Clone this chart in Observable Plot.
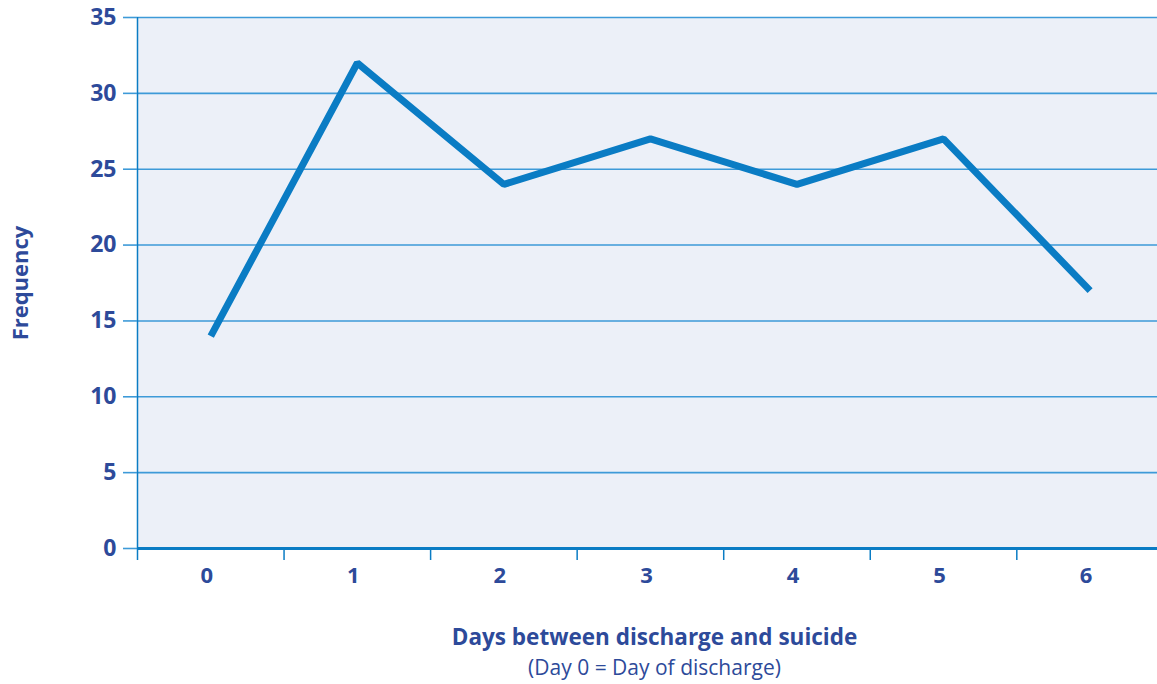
<!DOCTYPE html>
<html>
<head>
<meta charset="utf-8">
<script src="https://cdn.jsdelivr.net/npm/d3@7"></script>
<script src="https://cdn.jsdelivr.net/npm/@observablehq/plot@0.6"></script>
<style>
  html, body { margin: 0; padding: 0; background: #fff; }
  #chart svg { display: block; }
</style>
</head>
<body>
<div id="chart"></div>
<script>
const days = [0, 1, 2, 3, 4, 5, 6];
const frequency = [14, 32, 24, 27, 24, 27, 17];
const yTicks = [0, 5, 10, 15, 20, 25, 30, 35];
const xBoundaries = [-0.5, 0.5, 1.5, 2.5, 3.5, 4.5, 5.5];
const xTitle = "Days between discharge and suicide";
const xSubtitle = "(Day 0 = Day of discharge)";
const yTitle = "Frequency";

const data = days.map((d, i) => ({day: d, freq: frequency[i]}));
const textColor = "#2d4a9a";
const lineColor = "#0a7cc4";
const gridColor = "#3d9ad8";
const font = "'Open Sans', 'Noto Sans', sans-serif";

const chart = Plot.plot({
  width: 1157,
  height: 684,
  marginLeft: 137,
  marginRight: 0,
  marginTop: 17,
  marginBottom: 136,
  style: {fontFamily: font, color: textColor, background: "#fff"},
  x: {type: "linear", domain: [-0.5, 6.46], axis: null},
  y: {type: "linear", domain: [0, 35], axis: null},
  marks: [
    Plot.frame({fill: "#ecf0f8", stroke: null}),
    Plot.ruleY(yTicks.filter(d => d > 0), {stroke: gridColor, strokeWidth: 1.6}),
    Plot.ruleX([-0.5], {stroke: lineColor, strokeWidth: 1.5}),
    Plot.axisY({
      ticks: yTicks, tickSize: 14, tickPadding: 7, stroke: gridColor, strokeWidth: 1.6,
      fontSize: 23, fontWeight: "bold", fill: textColor, label: null
    }),
    Plot.axisX({
      ticks: xBoundaries, tickSize: 12, tickFormat: () => "", stroke: lineColor,
      strokeWidth: 1.5, label: null
    }),
    Plot.axisX({
      ticks: days, tickSize: 0, tickPadding: 19, dx: -4, tickFormat: d => String(d),
      fontSize: 22, fontWeight: "bold", fill: textColor, label: null
    }),
    Plot.ruleY([0], {stroke: lineColor, strokeWidth: 3}),
    Plot.line(data, {
      x: "day", y: "freq", stroke: lineColor, strokeWidth: 7,
      strokeLinecap: "butt", strokeLinejoin: "miter"
    }),
    Plot.text([xTitle], {
      frameAnchor: "bottom", dx: 7, dy: 96, text: d => d,
      fontSize: 22.5, fontWeight: "bold", fill: textColor
    }),
    Plot.text([xSubtitle], {
      frameAnchor: "bottom", dx: 7, dy: 126, text: d => d,
      fontSize: 21, fill: textColor
    }),
    Plot.text([yTitle], {
      frameAnchor: "left", textAnchor: "middle", dx: -117, rotate: -90, text: d => d,
      fontSize: 22, fontWeight: "bold", fill: textColor
    })
  ]
});
document.getElementById("chart").appendChild(chart);
</script>
</body>
</html>
